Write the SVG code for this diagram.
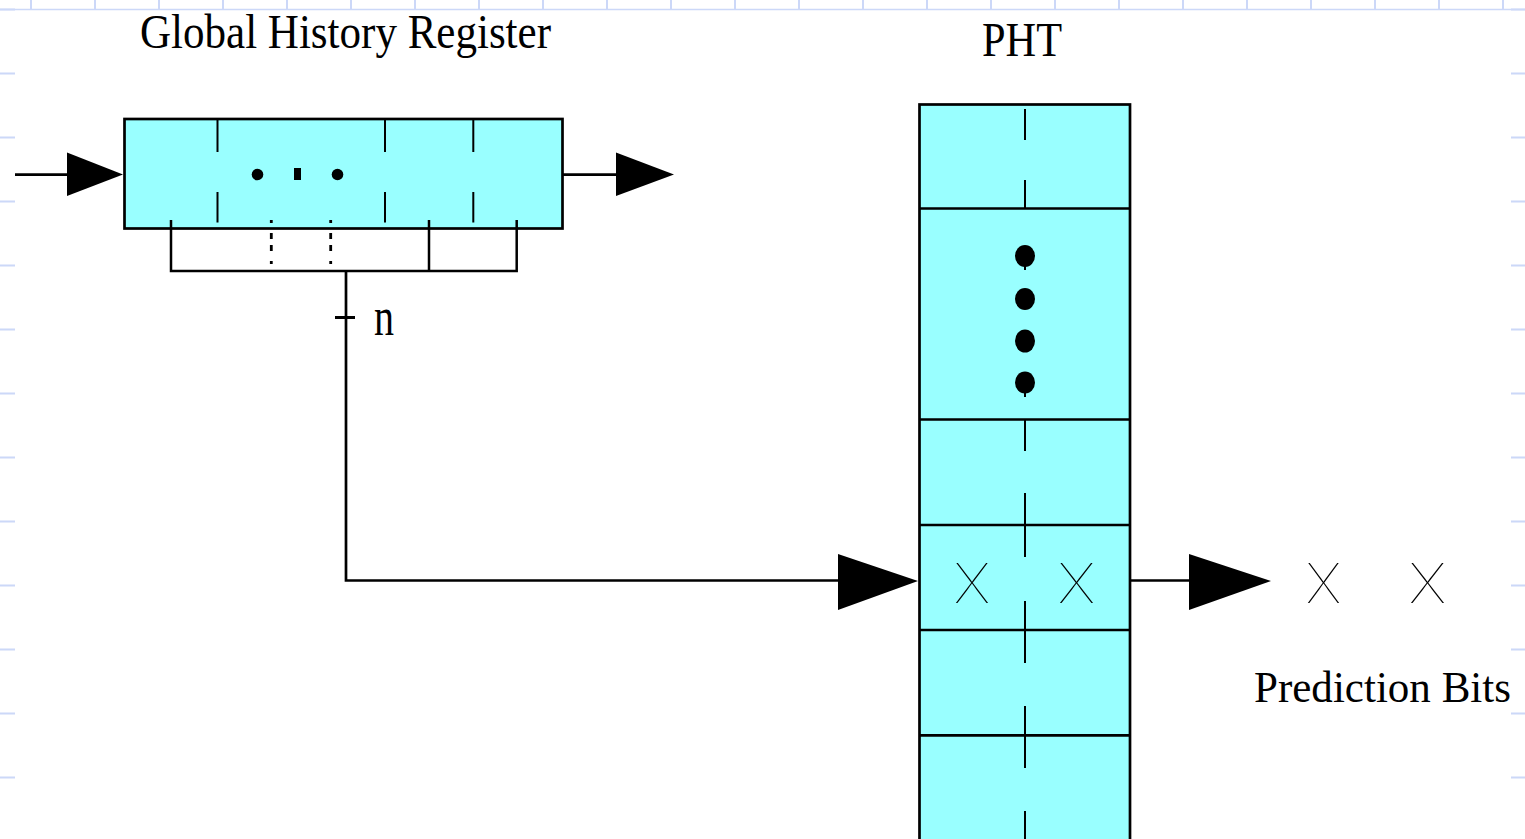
<svg xmlns="http://www.w3.org/2000/svg" width="1525" height="839" viewBox="0 0 1525 839">
<style>
.grid{stroke:#ccd8f8;stroke-width:2;fill:none}
.gridline{stroke:#ccd8f8;stroke-width:1.3;fill:none}
.cell{fill:#99ffff;stroke:#000;stroke-width:2.7}
.ln{stroke:#000;stroke-width:2;fill:none}
.thick{stroke:#000;stroke-width:2.7;fill:none}
.lbl{font-family:"Liberation Serif","Times New Roman",serif;font-size:48px;fill:#000}
.bit{font-family:Inter,"DejaVu Sans",sans-serif;font-weight:100;font-size:54px;fill:#000}
.head{fill:#000;stroke:none}
</style>
<rect x="0" y="0" width="1525" height="839" fill="#fff"/>
<g id="background-grid">
<path class="gridline" d="M0 9.5 H1525"/>
<path class="grid" d="M31 0V9 M95 0V9 M159 0V9 M223 0V9 M287 0V9 M351 0V9 M415 0V9 M479 0V9 M543 0V9 M607 0V9 M671 0V9 M735 0V9 M799 0V9 M863 0V9 M927 0V9 M991 0V9 M1055 0V9 M1119 0V9 M1183 0V9 M1247 0V9 M1311 0V9 M1375 0V9 M1439 0V9 M1503 0V9"/>
<path class="grid" d="M0 9.5H15 M0 73.5H15 M0 137.5H15 M0 201.5H15 M0 265.5H15 M0 329.5H15 M0 393.5H15 M0 457.5H15 M0 521.5H15 M0 585.5H15 M0 649.5H15 M0 713.5H15 M0 777.5H15"/>
<path class="grid" d="M1511 9.5H1525 M1511 73.5H1525 M1511 137.5H1525 M1511 201.5H1525 M1511 265.5H1525 M1511 329.5H1525 M1511 393.5H1525 M1511 457.5H1525 M1511 521.5H1525 M1511 585.5H1525 M1511 649.5H1525 M1511 713.5H1525 M1511 777.5H1525"/>
</g>
<g id="ghr">
<rect class="cell" x="124.5" y="119" width="438" height="109.5"/>
<path class="ln" d="M217.5 119V152 M217.5 192V222.5 M385 119V152 M385 192V222.5 M473.3 119V152 M473.3 192V222.5"/>
<circle class="head" cx="257.5" cy="174.5" r="5.8"/>
<rect class="head" x="294" y="168" width="7" height="12"/>
<circle class="head" cx="337.5" cy="174.5" r="5.8"/>
<path class="thick" d="M171 220V271H516.7V220 M429 220V271" style="stroke-width:2.5"/>
<path class="thick" d="M271.3 220V223 M271.3 233V239 M271.3 245V251 M271.3 261V264 M330.7 220V223 M330.7 233V239 M330.7 245V251 M330.7 261V264" style="stroke-width:2.8"/>
</g>
<g id="pht">
<rect class="cell" x="919.5" y="104.5" width="210.5" height="760"/>
<path class="thick" d="M919.5 208.5H1130 M919.5 419.5H1130 M919.5 525H1130 M919.5 630H1130 M919.5 735.3H1130"/>
<path class="ln" d="M1025 109V140 M1025 180V208.5 M1025 256V270 M1025 382V397 M1025 419.5V451 M1025 493V525 M1025 525V557 M1025 601V630 M1025 630V663 M1025 706V735 M1025 735V768 M1025 811V839"/>
<ellipse class="head" cx="1025" cy="256" rx="10" ry="11"/>
<ellipse class="head" cx="1025" cy="299" rx="10" ry="11"/>
<ellipse class="head" cx="1025" cy="341" rx="10" ry="11.5"/>
<ellipse class="head" cx="1025" cy="382.5" rx="10" ry="11"/>
<text class="bit" x="954" y="603.3" textLength="36" lengthAdjust="spacingAndGlyphs">X</text>
<text class="bit" x="1058" y="603.3" textLength="37" lengthAdjust="spacingAndGlyphs">X</text>
</g>
<g id="prediction-bits">
<text class="bit" x="1306" y="603.3" textLength="35" lengthAdjust="spacingAndGlyphs">X</text>
<text class="bit" x="1409" y="603.3" textLength="37" lengthAdjust="spacingAndGlyphs">X</text>
<text class="lbl" x="1254" y="702" style="font-size:44px" textLength="257" lengthAdjust="spacingAndGlyphs">Prediction Bits</text>
</g>
<g id="connectors">
<path class="thick" d="M15 174.7H70"/>
<polygon class="head" points="67,152.5 67,196 123,174.5"/>
<path class="thick" d="M563 174.7H620"/>
<polygon class="head" points="616,152.5 616,196 674,174.5"/>
<path class="thick" d="M346 271V580.5H840"/>
<path class="thick" d="M335 317.5H355" style="stroke-width:3"/>
<polygon class="head" points="838,554 838,610 918,581"/>
<path class="thick" d="M1131 580.5H1192"/>
<polygon class="head" points="1189,554 1189,610 1271,581"/>
<text class="lbl" x="374" y="335" style="font-size:54px" textLength="20" lengthAdjust="spacingAndGlyphs">n</text>
</g>
<g id="titles">
<text class="lbl" x="140" y="47.5" textLength="411" lengthAdjust="spacingAndGlyphs">Global History Register</text>
<text class="lbl" x="982" y="55.7" textLength="80" lengthAdjust="spacingAndGlyphs">PHT</text>
</g>
</svg>
